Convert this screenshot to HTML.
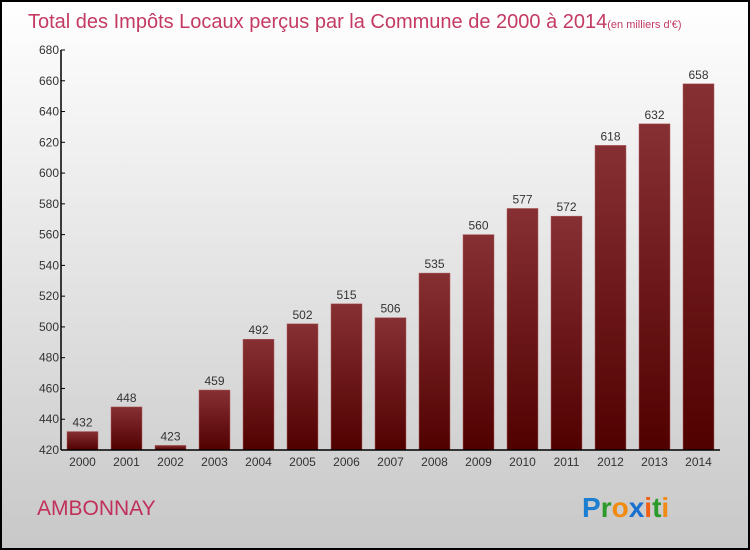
<!DOCTYPE html>
<html><head><meta charset="utf-8"><style>
body{margin:0}
#c{position:relative;width:746px;height:546px;border:2px solid #000;background:linear-gradient(#fff,#c8c8c8);font-family:"Liberation Sans",sans-serif;overflow:hidden}
</style></head><body>
<div id="c">
<svg id="s" width="746" height="546" style="position:absolute;left:0;top:0">
<defs><linearGradient id="g" x1="0" y1="0" x2="0" y2="1"><stop offset="0" stop-color="#873034"/><stop offset="1" stop-color="#510000"/></linearGradient></defs>
<text x="26" y="26" font-size="20" fill="#c43a62">Total des Impôts Locaux perçus par la Commune de 2000 à 2014<tspan font-size="11">(en milliers d'€)</tspan></text>
<text x="35" y="513" font-size="21" fill="#c0305a">AMBONNAY</text>
<text x="580" y="515" font-size="28" font-weight="bold"><tspan fill="#1a7fd0">P</tspan><tspan fill="#2a9a2a">r</tspan><tspan fill="#f08a10">o</tspan><tspan fill="#1a70d0">x</tspan><tspan fill="#f06010">i</tspan><tspan fill="#2a9a2a">t</tspan><tspan fill="#f08a10">i</tspan></text>
</svg>
</div>
<script>
const categories=["2000","2001","2002","2003","2004","2005","2006","2007","2008","2009","2010","2011","2012","2013","2014"];
const values=[432,448,423,459,492,502,515,506,535,560,577,572,618,632,658];
const ticks=[420,440,460,480,500,520,540,560,580,600,620,640,660,680];
const s=document.getElementById('s');const NS='http://www.w3.org/2000/svg';
const ox=-2,oy=-2;
const y=v=>oy+450-(v-420)*400/260;
const x=i=>ox+82.5+i*44;
function el(t,a){const e=document.createElementNS(NS,t);for(const k in a)e.setAttribute(k,a[k]);s.appendChild(e);return e;}
values.forEach((v,i)=>{
const r=el('rect',{x:x(i)-15.5,y:y(v),width:31,height:y(420)-y(v),fill:'url(#g)',stroke:'#b06060','stroke-width':0.5});


const t=el('text',{x:x(i),y:y(v)-5,'text-anchor':'middle','font-size':12,fill:'#333'});t.textContent=v;


const c=el('text',{x:x(i),y:oy+466,'text-anchor':'middle','font-size':12,fill:'#333'});c.textContent=categories[i];


});
ticks.forEach(v=>{
const l=el('line',{x1:ox+61,x2:ox+65,y1:y(v),y2:y(v),stroke:'#000'});


const t=el('text',{x:ox+59,y:y(v)+4,'text-anchor':'end','font-size':12,fill:'#333'});t.textContent=v;


});
const ya=el('line',{x1:ox+61,x2:ox+61,y1:y(680),y2:y(420),stroke:'#000','stroke-width':1.5});


const xa=el('line',{x1:ox+61,x2:ox+720,y1:y(420),y2:y(420),stroke:'#000','stroke-width':1.5});


</script>
</body></html>
